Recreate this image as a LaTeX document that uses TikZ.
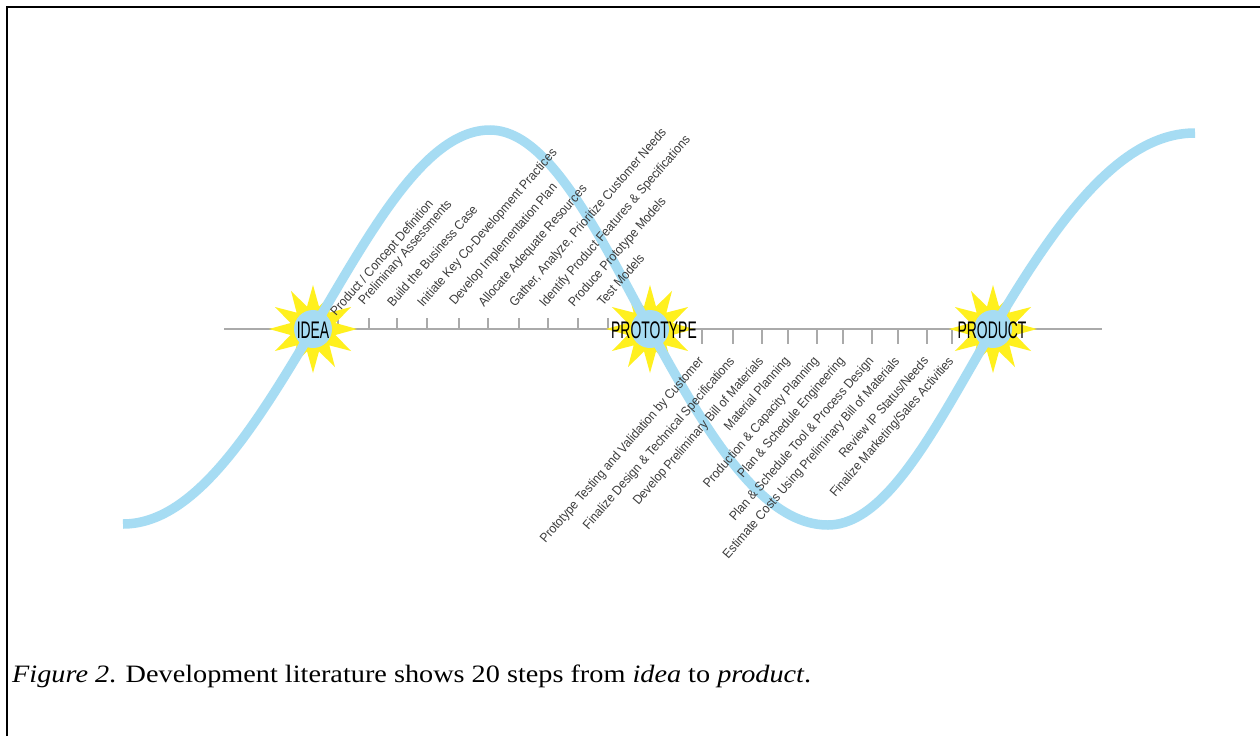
\documentclass[tikz,border=0pt]{standalone}
\usepackage{fontspec}
\setmainfont{Liberation Serif}
\newfontfamily\capfont[FakeStretch=1.13]{Liberation Serif}
\newfontfamily\lblfont[FakeStretch=0.92]{Liberation Sans}
\newfontfamily\stagefont[FakeStretch=0.58]{Liberation Sans}
\usetikzlibrary{shapes.geometric}
\definecolor{curveblue}{RGB}{166,220,243}
\definecolor{staryellow}{RGB}{255,240,30}
\definecolor{axisgray}{RGB}{170,170,170}
\definecolor{labelgray}{RGB}{60,60,60}
\tikzset{
  frameline/.style={line width=2.5pt, black},
  axisline/.style={line width=2.5pt, axisgray},
  tickline/.style={line width=1.5pt, axisgray},
  burst/.style={star, star points=12, star point ratio=1.9, minimum size=88pt, inner sep=0pt, fill=staryellow, draw=none},
  stagedot/.style={circle, minimum size=38pt, inner sep=0pt, fill=curveblue, draw=none},
  curveline/.style={line width=9.5pt, curveblue},
  stagelabel/.style={font=\stagefont\fontsize{24}{26}\selectfont, text=black, inner sep=0pt},
  uplabel/.style={font=\lblfont\fontsize{13}{15}\selectfont, text=labelgray, rotate=49, anchor=base west, inner sep=0pt},
  dnlabel/.style={font=\lblfont\fontsize{13}{15}\selectfont, text=labelgray, rotate=49, anchor=north east, inner sep=0pt},
}
\begin{document}
\begin{tikzpicture}[x=1pt,y=-1pt]
\useasboundingbox (0,0) rectangle (1260,736);
\fill[white] (0,0) rectangle (1260,736);
% frame
\coordinate (fbl) at (7,736);
\coordinate (ftl) at (7,7);
\coordinate (ftr) at (1260,7);
\draw[frameline] (fbl) -- (ftl) -- (ftr);
% axis and ticks
\coordinate (axL) at (224,329);
\coordinate (axR) at (1102,329);
\draw[axisline] (axL) -- (axR);
\foreach \x in {338,369,397,427,459,488,519,548,578,608}
  \draw[tickline] (\x,318) -- (\x,329);
\foreach \x in {702,733,762,788,817,843,872,898,927,952}
  \draw[tickline] (\x,329) -- (\x,344);
% stars
\node[burst] (ideastar) at (313,329) {};
\node[burst] (protostar) at (650,329) {};
\node[burst] (prodstar) at (993,329) {};
\node[stagedot] (ideadot) at (313,329) {};
\node[stagedot] (protodot) at (650,329) {};
\node[stagedot] (proddot) at (993,329) {};
% curve
\draw[curveline] (123,524) .. controls (192,524) and (250,436) .. (313,329)
  .. controls (372,229) and (426,130) .. (490,130)
  .. controls (548,130) and (597,231) .. (650,329)
  .. controls (709,438) and (763,525) .. (828,525)
  .. controls (888,525) and (938,422.5) .. (993,329)
  .. controls (1060,215) and (1122,133) .. (1195,133);
% stage labels
\node[stagelabel] (idea) at (313,330) {IDEA};
\node[stagelabel] (proto) at (654,330) {PROTOTYPE};
\node[stagelabel] (prod) at (992,330) {PRODUCT};
% upper labels
\foreach \x/\y/\t [count=\i] in {
  336/317/{Product / Concept Definition},
  364/306/{Preliminary Assessments},
  393/308/{Build the Business Case},
  423/308/{Initiate Key Co-Development Practices},
  455/306/{Develop Implementation Plan},
  484/308/{Allocate Adequate Resources},
  515/308/{Gather, Analyze, Prioritize Customer Needs},
  545/308/{Identify Product Features \& Specifications},
  574/308/{Produce Prototype Models},
  603/307/{Test Models}}
  \node[uplabel] (up\i) at (\x,\y) {\t};
% lower labels
\foreach \x/\t [count=\i] in {
  702/{Prototype Testing and Validation by Customer},
  733/{Finalize Design \& Technical Specifications},
  762/{Develop Preliminary Bill of Materials},
  788/{Material Planning},
  817/{Production \& Capacity Planning},
  843/{Plan \& Schedule Engineering},
  872/{Plan \& Schedule Tool \& Process Design},
  898/{Estimate Costs Using Preliminary Bill of Materials},
  927/{Review IP Status/Needs},
  952/{Finalize Marketing/Sales Activities}}
  \node[dnlabel] (dn\i) at (\x-5,355) {\t};
% caption
\node[anchor=base west, inner sep=0pt, font=\capfont\fontsize{25}{30}\selectfont] (cap) at (12,682)
  {\textit{Figure 2}. Development literature shows 20 steps from \textit{idea} to \textit{product}.};
\end{tikzpicture}
\end{document}
